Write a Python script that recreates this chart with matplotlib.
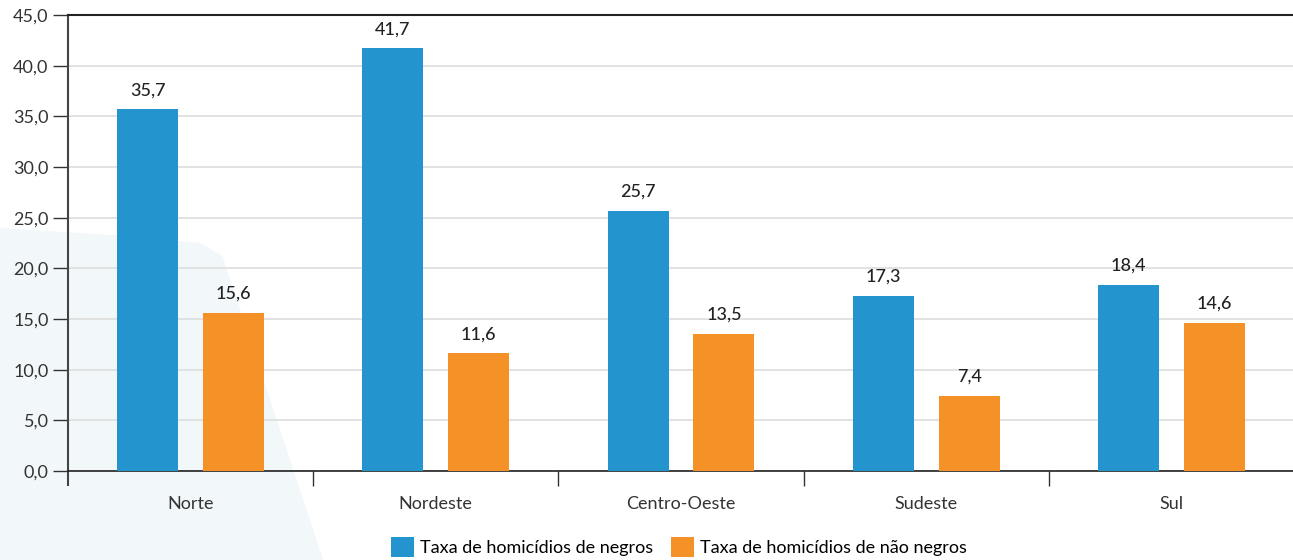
import matplotlib
matplotlib.use("Agg")
import matplotlib.pyplot as plt
from matplotlib.patches import Polygon
import numpy as np

categories = ["Norte", "Nordeste", "Centro-Oeste", "Sudeste", "Sul"]
negros = [35.7, 41.7, 25.7, 17.3, 18.4]
nao_negros = [15.6, 11.6, 13.5, 7.4, 14.6]
series_names = ["Taxa de homicídios de negros", "Taxa de homicídios de não negros"]
yticks = [0, 5, 10, 15, 20, 25, 30, 35, 40, 45]

plt.rcParams['font.family'] = ['Lato', 'DejaVu Sans']
blue = "#2394cd"
orange = "#f59227"

fig = plt.figure(figsize=(12.93, 5.6), dpi=100)
# background decorative shape
bg = Polygon([(0, 1 - 228/560), (0.10, 1 - 236/560), (0.155, 1 - 243/560), (0.172, 1 - 256/560),
              (0.25, 0.0), (0, 0)], closed=True, transform=fig.transFigure,
             facecolor="#f2f7fa", edgecolor="none", zorder=-5)
fig.patches.append(bg)

ax = fig.add_axes([68/1293, 89/560, 1226/1293, 456/560])
ax.set_zorder(2)
ax.set_facecolor("none")
x = np.arange(len(categories))
w = 0.249
off = 0.175
b1 = ax.bar(x - off, negros, w, color=blue, label=series_names[0], zorder=3)
b2 = ax.bar(x + off, nao_negros, w, color=orange, label=series_names[1], zorder=3)
for bars, vals in ((b1, negros), (b2, nao_negros)):
    for r, v in zip(bars, vals):
        ax.annotate(f"{v:.1f}".replace(".", ","), (r.get_x() + r.get_width()/2, v),
                    xytext=(0, 8), textcoords="offset points", ha="center", va="bottom",
                    fontsize=13, color="#222222", fontweight="medium")

ax.set_xlim(-0.5, len(categories) - 0.5)
ax.set_ylim(0, 45)
ax.set_yticks(yticks)
ax.set_yticklabels([f"{t:.1f}".replace(".", ",") for t in yticks], fontsize=13, color="#333333")
ax.yaxis.grid(True, color="#dddddd", linewidth=1.2, zorder=0)
ax.set_axisbelow(True)
ax.tick_params(axis='y', length=11, width=1, color="#333333", pad=3)
ax.set_xticks(x)
ax.set_xticklabels(categories, fontsize=13, color="#333333")
ax.tick_params(axis='x', length=0, pad=18)
# category separators
ax.set_xticks(np.arange(1, len(categories)) - 0.5, minor=True)
ax.tick_params(axis='x', which='minor', length=11, width=1, color="#333333")
ax.spines["right"].set_visible(False)
ax.spines["top"].set_color("#222222")
ax.spines["top"].set_linewidth(1.5)
ax.spines["left"].set_color("#444444")
ax.spines["left"].set_linewidth(1.5)
ax.spines["left"].set_bounds(-1.35, 45)
ax.spines["bottom"].set_color("#222222")
ax.spines["bottom"].set_linewidth(1.2)

leg = fig.legend(handles=[b1, b2], labels=series_names, loc="center", bbox_to_anchor=(0.525, 13/560),
                 ncol=2, frameon=False, fontsize=13, handlelength=1.3, handleheight=1.3,
                 handletextpad=0.3, columnspacing=1.0)
fig.savefig("out.png", dpi=100)
